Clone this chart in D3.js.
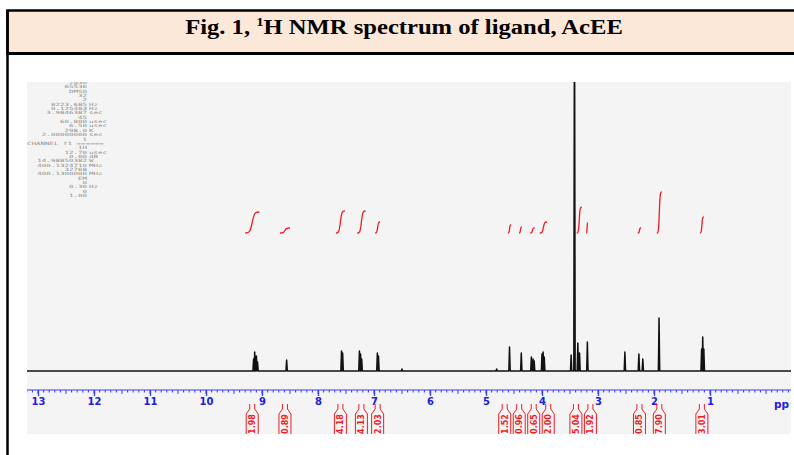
<!DOCTYPE html>
<html>
<head>
<meta charset="utf-8">
<script src="https://cdn.jsdelivr.net/npm/d3@7"></script>
<style>
  body { margin: 0; background: #fff; }
  svg { display: block; }
</style>
</head>
<body>
<svg id="chart" width="794" height="455"></svg>
<script>
// peaks: [ppm, intensity]
var peakPpm = [9.15, 9.13, 9.10, 9.08, 8.56, 7.58, 7.56, 7.26, 7.24, 7.22, 6.94, 6.92, 6.50,
               4.81, 4.58, 4.37, 4.19, 4.16, 4.14, 4.00, 3.98, 3.96, 3.48, 3.42, 3.36, 3.33,
               3.19, 2.52, 2.27, 2.20, 1.91, 1.15, 1.13, 1.11];
var peakInt = [12, 19, 15, 9, 11, 20, 18, 20, 17, 12, 18, 15, 2,
               2, 24, 18, 14, 12, 10, 17, 19, 14, 16, 400, 28, 18,
               29, 19, 17, 12, 53, 22, 34, 22];

// integral regions [from ppm, to ppm], drawn height, and value
var intFrom = [9.30, 8.68, 7.68, 7.30, 6.98, 4.61, 4.41, 4.21, 4.04, 3.38, 3.21, 2.29, 1.95, 1.18];
var intTo   = [9.05, 8.50, 7.52, 7.15, 6.89, 4.55, 4.36, 4.13, 3.91, 3.29, 3.18, 2.23, 1.86, 1.11];
var intRise = [21, 5, 22, 22, 11, 8, 6, 5, 11, 26, 10, 5, 41, 16];
var intVals = ["1.98", "0.89", "4.18", "4.13", "2.03", "1.52", "0.96", "0.65", "2.00",
               "5.04", "1.92", "0.85", "7.90", "3.01"];

var axisTicks = [13, 12, 11, 10, 9, 8, 7, 6, 5, 4, 3, 2, 1];

// acquisition / processing parameters printed top-left
var paramVals = ["zg30", "65536", "DMSO", "32", "2", "8223.685", "0.125483", "3.9846387", "45",
                 "60.800", "6.50", "298.0", "2.00000000", "1", "CHANNEL f1 ======", "1H",
                 "12.70", "0.00", "14.98850382", "400.1324710", "32768", "400.1300000", "EM",
                 "0", "0.30", "0", "1.00"];
var paramUnits = ["", "", "", "", "", "Hz", "Hz", "sec", "", "usec", "usec", "K", "sec", "", "",
                  "", "usec", "dB", "W", "MHz", "", "MHz", "", "", "Hz", "", ""];

var svg = d3.select("#chart");
var W = 794, H = 455;

// frame
svg.append("rect").attr("x", 7.5).attr("y", 10.5).attr("width", 800).attr("height", 43)
    .attr("fill", "#fce8d9").attr("stroke", "#000").attr("stroke-width", 2.5);
svg.append("line").attr("x1", 7.5).attr("x2", 7.5).attr("y1", 10).attr("y2", H)
    .attr("stroke", "#000").attr("stroke-width", 2.5);
svg.append("line").attr("x1", 7.5).attr("x2", W).attr("y1", 53.5).attr("y2", 53.5)
    .attr("stroke", "#000").attr("stroke-width", 3);

//title is stretched sideways in the original
var title = svg.append("text")
    .attr("transform", "translate(404,33.5) scale(1.23,1)")
    .attr("text-anchor", "middle")
    .attr("font-family", "Liberation Serif, Times New Roman, serif")
    .attr("font-weight", "bold")
    .attr("font-size", 20);
title.append("tspan").text("Fig. 1, ");
title.append("tspan").attr("font-size", 12).attr("dy", -8).text("1");
title.append("tspan").attr("dy", 8).text("H NMR spectrum of ligand, AcEE");

// plot panel
var px0 = 27, px1 = 791, py0 = 82, py1 = 434;
svg.append("rect").attr("x", px0).attr("y", py0).attr("width", px1 - px0).attr("height", py1 - py0)
    .attr("fill", "#f4f4f4");
svg.append("clipPath").attr("id", "panel")
  .append("rect").attr("x", px0).attr("y", py0).attr("width", px1 - px0).attr("height", py1 - py0);

var x = d3.scaleLinear().domain([13, 1]).range([38, 710]);
var y = d3.scaleLinear().domain([0, 289]).range([371, 82]);

var g = svg.append("g").attr("clip-path", "url(#panel)");

// parameter text block (squashed vertically like the original printout)
var sq = 0.58;
var pt = g.append("g")
    .attr("transform", "translate(0,84) scale(1," + sq + ")")
    .attr("font-family", "DejaVu Sans Mono, monospace")
    .attr("font-size", 7.5)
    .attr("fill", "#8f8f8f");
paramVals.forEach(function(v, i) {
    var yy = i * 4.35 / sq;
    if(v.indexOf("CHANNEL") === 0) {
        pt.append("text").attr("x", 27).attr("y", yy).text(v);
    } else {
        pt.append("text").attr("x", 87).attr("y", yy).attr("text-anchor", "end").text(v);
        if(paramUnits[i]) pt.append("text").attr("x", 89).attr("y", yy).text(paramUnits[i]);
    }
});

// spectrum trace
var pts = [[x.invert(px0 - 5), 0]];
var order = d3.range(peakPpm.length).sort((a, b) => peakPpm[b] - peakPpm[a]);
order.forEach(function(i) {
    pts.push([peakPpm[i] + 0.012, 0]);
    pts.push([peakPpm[i], peakInt[i]]);
    pts.push([peakPpm[i] - 0.012, 0]);
});
pts.push([x.invert(px1 + 5), 0]);
var line = d3.line().x(d => x(d[0])).y(d => y(d[1]));
g.append("path")
    .attr("d", line(pts))
    .attr("fill", "none")
    .attr("stroke", "#111")
    .attr("stroke-width", 1.5)
    .attr("stroke-linejoin", "round");

// integral curves, S shaped
var intBase = 233;
var curve = d3.line().curve(d3.curveBasis).x(d => d[0]).y(d => d[1]);
intFrom.forEach(function(f, i) {
    var xa = x(f), xb = x(intTo[i]), w = xb - xa, h = intRise[i];
    var c = [[xa, intBase], [xa + 0.35 * w, intBase], [xa + 0.5 * w, intBase - 0.5 * h],
             [xa + 0.65 * w, intBase - h], [xb, intBase - h]];
    g.append("path")
        .attr("d", curve(c))
        .attr("fill", "none")
        .attr("stroke", "#ee1c24")
        .attr("stroke-width", 1.3);
});

// axis
var axisY = 390;
var ax = d3.axisBottom(x).tickValues(axisTicks).tickSize(6).tickFormat(d3.format("d"));
var axG = g.append("g").attr("transform", "translate(0," + axisY + ")");
axG.append("line").attr("x1", px0).attr("x2", px1).attr("stroke", "#3b3bff").attr("stroke-width", 1);
var minor = d3.range(-4, 133).map(d => d / 10);
axG.selectAll(".minor").data(minor).enter().append("line")
    .attr("x1", d => x(d)).attr("x2", d => x(d))
    .attr("y1", 0).attr("y2", d => Math.abs(d * 2 - Math.round(d * 2)) < 1e-6 ? 4 : 2.5)
    .attr("stroke", "#3b3bff").attr("stroke-width", 1);
var axLabels = axG.append("g").call(ax);
axLabels.select(".domain").remove();
axLabels.selectAll(".tick line").attr("stroke", "#3b3bff").attr("stroke-width", 1.3);
axLabels.selectAll(".tick text")
    .attr("fill", "#2020e0")
    .attr("font-family", "DejaVu Sans, Verdana, sans-serif")
    .attr("font-weight", "bold")
    .attr("font-size", 10)
    .attr("y", 8);
// unit label, shown cut to "pp" at the panel edge in the original
axG.append("text").attr("x", 774).attr("y", 17.5)
    .attr("fill", "#2020e0").attr("font-family", "DejaVu Sans, Verdana, sans-serif")
    .attr("font-weight", "bold").attr("font-size", 10.5).text("pp");

// integral value labels, spread so they do not overlap
var lx = intFrom.map((f, i) => (x(f) + x(intTo[i])) / 2);
for(var it = 0; it < 100; it++) {
    for(var k = 1; k < lx.length; k++) {
        var gap = 14.5 - (lx[k] - lx[k - 1]);
        if(gap > 0) { lx[k - 1] -= gap / 2; lx[k] += gap / 2; }
    }
}
var lab = g.append("g");
lx.forEach(function(cx, i) {
    var hw = 6;
    lab.append("path")
        .attr("d", "M" + (cx - hw) + "," + (py1 + 2) + "V414L" + (cx - 2.5) + ",409V404" +
                   "M" + (cx + hw) + "," + (py1 + 2) + "V414L" + (cx + 2.5) + ",409V404")
        .attr("fill", "none")
        .attr("stroke", "#ee1c24")
        .attr("stroke-width", 1);
    lab.append("text")
        .attr("transform", "translate(" + (cx + 3) + ",424) rotate(-90)")
        .attr("text-anchor", "middle")
        .attr("font-family", "DejaVu Sans, Verdana, sans-serif")
        .attr("font-weight", "bold")
        .attr("font-size", 8)
        .attr("fill", "#ee1c24")
        .text(intVals[i]);
});
</script>
</body>
</html>
